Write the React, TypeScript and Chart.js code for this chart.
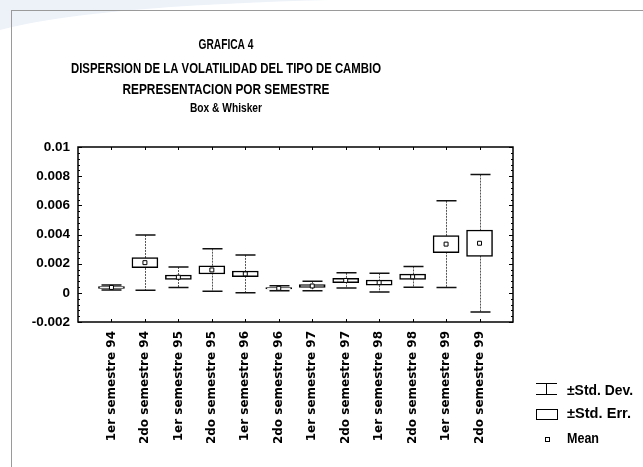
import { useEffect, useRef } from 'react';
import { Chart, registerables } from 'chart.js';

Chart.register(...registerables);

const titleLines = ['GRAFICA 4', 'DISPERSION DE LA VOLATILIDAD DEL TIPO DE CAMBIO', 'REPRESENTACION POR SEMESTRE'];
const subtitle = 'Box & Whisker';

const categories = [
  '1er semestre 94', '2do semestre 94', '1er semestre 95', '2do semestre 95',
  '1er semestre 96', '2do semestre 96', '1er semestre 97', '2do semestre 97',
  '1er semestre 98', '2do semestre 98', '1er semestre 99', '2do semestre 99',
];
const means = [0.00037, 0.00207, 0.00107, 0.00157, 0.0013, 0.00031, 0.00047, 0.00085, 0.0007, 0.0011, 0.00334, 0.0034];
const stdErrs = [0.00006, 0.00035, 0.00015, 0.00028, 0.0002, 0.00005, 0.0001, 0.00015, 0.00018, 0.00018, 0.00059, 0.00091];
const stdDevs = [0.00017, 0.0019, 0.0007, 0.00146, 0.0013, 0.00017, 0.00032, 0.00052, 0.00064, 0.00071, 0.00297, 0.00471];

const yMin = -0.002;
const yMax = 0.01;
const yStep = 0.002;
const legendLabels = ['±Std. Dev.', '±Std. Err.', 'Mean'];

const SANS = "'Liberation Sans', Arial, sans-serif";

function fitText(ctx: CanvasRenderingContext2D, text: string, cx: number, cy: number, font: string, width: number, align: 'center' | 'left' = 'center') {
  ctx.save();
  ctx.font = font;
  const w = ctx.measureText(text).width;
  const k = w > 0 ? width / w : 1;
  ctx.translate(cx, cy);
  ctx.scale(k, 1);
  ctx.textAlign = align;
  ctx.textBaseline = 'middle';
  ctx.fillText(text, 0, 0);
  ctx.restore();
}

const decorPlugin = {
  id: 'decor',
  beforeDraw(chart: any) {
    const ctx = chart.ctx;
    ctx.save();
    ctx.fillStyle = '#fff';
    ctx.fillRect(0, 0, chart.width, chart.height);
    ctx.fillStyle = '#edf2f9';
    ctx.beginPath();
    ctx.moveTo(0, 0);
    ctx.lineTo(330, 0);
    ctx.quadraticCurveTo(90, 6, 0, 30);
    ctx.closePath();
    ctx.fill();
    ctx.strokeStyle = '#9a9a9a';
    ctx.lineWidth = 1;
    ctx.strokeRect(11.5, 10.5, 800, 800);
    ctx.restore();
  },
  beforeDatasetsDraw(chart: any) {
    const { ctx, scales } = chart;
    const x = scales.x;
    const y = scales.y;
    ctx.save();
    means.forEach((m, i) => {
      const px = Math.round(x.getPixelForValue(i)) + 0.5;
      const top = y.getPixelForValue(m + stdDevs[i]);
      const bot = y.getPixelForValue(m - stdDevs[i]);
      ctx.strokeStyle = '#555';
      ctx.lineWidth = 1;
      ctx.setLineDash([2, 1]);
      ctx.beginPath();
      ctx.moveTo(px, top);
      ctx.lineTo(px, bot);
      ctx.stroke();
      ctx.setLineDash([]);
      ctx.strokeStyle = '#111';
      ctx.lineWidth = 1.5;
      ctx.beginPath();
      ctx.moveTo(px - 10, top);
      ctx.lineTo(px + 10, top);
      ctx.moveTo(px - 10, bot);
      ctx.lineTo(px + 10, bot);
      ctx.stroke();
    });
    ctx.restore();
  },
  afterDraw(chart: any) {
    const { ctx, chartArea: a, scales } = chart;
    const x = scales.x;
    const y = scales.y;
    ctx.save();
    ctx.strokeStyle = '#000';
    ctx.lineWidth = 1.5;
    ctx.strokeRect(a.left, a.top, a.right - a.left, a.bottom - a.top);
    ctx.lineWidth = 1;
    ctx.beginPath();
    for (let v = yMin; v <= yMax + 1e-9; v += yStep / 5) {
      const py = Math.round(y.getPixelForValue(v)) + 0.5;
      const major = Math.abs(Math.round(v / yStep) * yStep - v) < 1e-9;
      const len = major ? 4 : 2;
      ctx.moveTo(a.left, py);
      ctx.lineTo(a.left + len, py);
      ctx.moveTo(a.right, py);
      ctx.lineTo(a.right - len, py);
    }
    categories.forEach((_, i) => {
      const px = Math.round(x.getPixelForValue(i)) + 0.5;
      ctx.moveTo(px, a.top);
      ctx.lineTo(px, a.top + 3);
      ctx.moveTo(px, a.bottom);
      ctx.lineTo(px, a.bottom - 3);
    });
    ctx.stroke();

    ctx.fillStyle = '#000';
    const cx = 226;
    const ys = [45, 69, 90];
    const widths = [55, 310, 207];
    titleLines.forEach((t, i) => {
      fitText(ctx, t, cx, ys[i], `bold 15.5px ${SANS}`, widths[i]);
    });
    fitText(ctx, subtitle, cx, 108, `bold 13px ${SANS}`, 72);

    const lx = 536;
    const tx = 567;
    ctx.strokeStyle = '#000';
    ctx.lineWidth = 1;
    ctx.beginPath();
    ctx.moveTo(lx, 383.5);
    ctx.lineTo(lx + 21, 383.5);
    ctx.moveTo(lx + 10.5, 383.5);
    ctx.lineTo(lx + 10.5, 394.5);
    ctx.moveTo(lx, 394.5);
    ctx.lineTo(lx + 21, 394.5);
    ctx.stroke();
    fitText(ctx, legendLabels[0], tx, 391, `bold 14px ${SANS}`, 66, 'left');
    ctx.strokeRect(lx + 0.5, 409.5, 21, 10);
    fitText(ctx, legendLabels[1], tx, 414, `bold 14px ${SANS}`, 64, 'left');
    ctx.fillStyle = '#fff';
    ctx.fillRect(545.5, 437.5, 4, 4);
    ctx.strokeRect(545.5, 437.5, 4, 4);
    ctx.fillStyle = '#000';
    fitText(ctx, legendLabels[2], tx, 439.5, `bold 14px ${SANS}`, 32, 'left');
    ctx.restore();
  },
};

export default function App() {
  const ref = useRef<HTMLCanvasElement | null>(null);
  useEffect(() => {
    document.body.style.margin = '0';
    const canvas = ref.current;
    if (!canvas) return;
    const chart = new Chart(canvas, {
      type: 'bar',
      data: {
        datasets: [
          {
            type: 'bar',
            data: categories.map((_, i) => ({ x: i, y: [means[i] - stdErrs[i], means[i] + stdErrs[i]] })) as any,
            backgroundColor: '#ffffff',
            borderColor: '#000000',
            borderWidth: 1.5,
            borderSkipped: false,
            barThickness: 26,
            order: 2,
          } as any,
          {
            type: 'scatter',
            data: means.map((m, i) => ({ x: i, y: m })),
            pointStyle: 'rect',
            pointRadius: 2.8,
            backgroundColor: '#ffffff',
            borderColor: '#000000',
            borderWidth: 1,
            order: 1,
          } as any,
        ],
      },
      options: {
        animation: false,
        responsive: false,
        layout: { padding: { top: 147, left: 10, right: 130, bottom: 0 } },
        plugins: {
          legend: { display: false },
          tooltip: { enabled: false },
          title: { display: false },
        },
        scales: {
          x: {
            type: 'linear',
            min: -1,
            max: 12,
            offset: false,
            grid: { display: false, drawTicks: false },
            border: { display: false },
            afterFit: (s: any) => { s.height = 145; },
            afterBuildTicks: (s: any) => {
              s.ticks = categories.map((_, i) => ({ value: i }));
            },
            ticks: {
              autoSkip: false,
              stepSize: 1,
              minRotation: 90,
              maxRotation: 90,
              padding: 9,
              color: '#000',
              font: { family: "'DejaVu Sans', sans-serif", size: 12, weight: 'bold' },
              callback: (v: any) => categories[v] ?? '',
            },
          },
          y: {
            min: yMin,
            max: yMax,
            grid: { display: false, drawTicks: false },
            border: { display: false },
            afterFit: (s: any) => { s.width = 68; },
            ticks: {
              stepSize: yStep,
              padding: 8,
              color: '#000',
              font: { family: SANS, size: 13.5, weight: 'bold' },
              callback: (v: any) => String(Number(Number(v).toFixed(4))),
            },
          },
        },
      },
      plugins: [decorPlugin],
    } as any);
    return () => chart.destroy();
  }, []);
  return (
    <div style={{ width: 643, height: 467, position: 'relative' }}>
      <canvas ref={ref} width={643} height={467} style={{ display: 'block' }} />
    </div>
  );
}
